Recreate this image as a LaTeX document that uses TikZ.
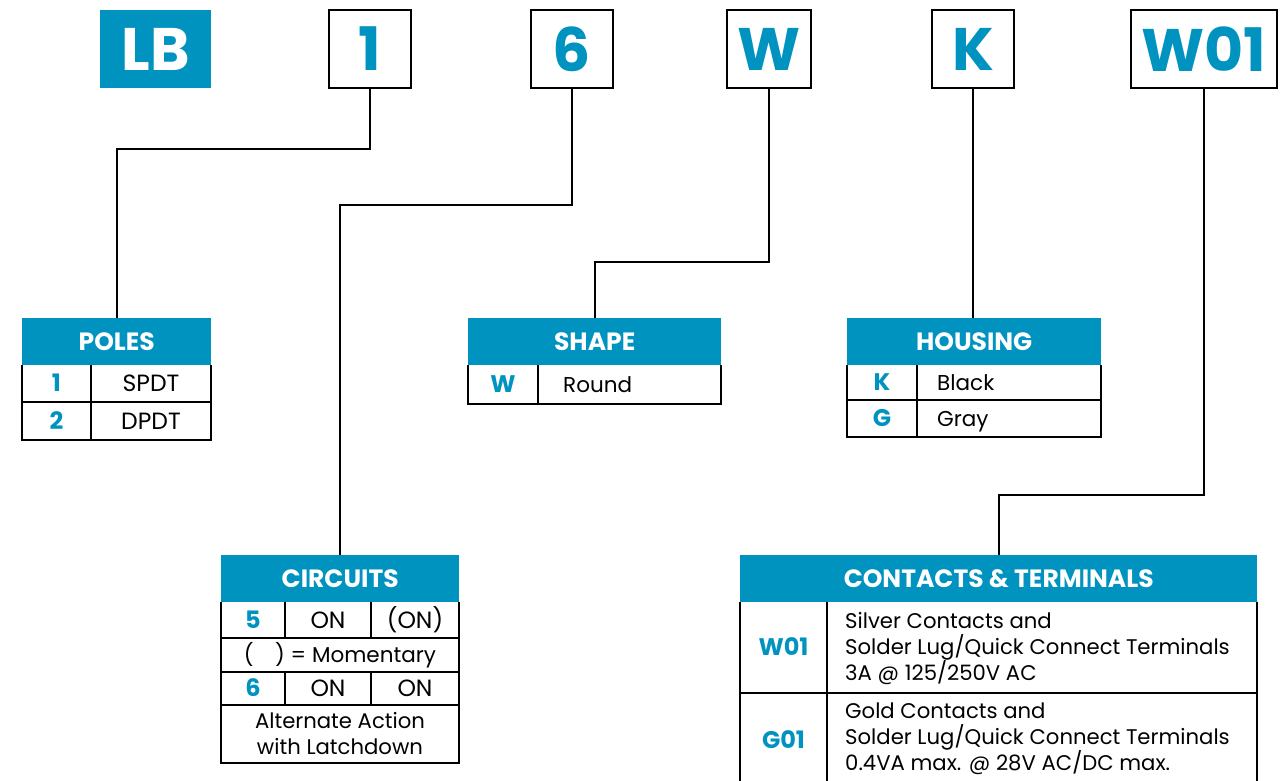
\documentclass[tikz,border=0pt]{standalone}
\usepackage{fontspec}
\setmainfont{Poppins}
\definecolor{cblue}{RGB}{0,147,192}
\begin{document}
\begin{tikzpicture}[x=1pt,y=-1pt,
  codebox/.style={draw=black, line width=2.5pt, minimum height=78pt, inner sep=0pt,
    font=\fontsize{60}{60}\selectfont\bfseries, text=cblue},
  hdr/.style={fill=cblue, text=white, anchor=north west, minimum height=47pt, inner sep=0pt,
    font=\fontsize{25}{25}\selectfont\bfseries},
  bt/.style={inner sep=0pt, text height=15pt, text depth=0pt, font=\fontsize{21.5}{26}\selectfont},
  capt/.style={inner sep=0pt, text height=16.5pt, text depth=0pt, font=\fontsize{23.5}{26}\selectfont},
  ct/.style={inner sep=0pt, text height=16.5pt, text depth=0pt, text=cblue, font=\fontsize{24}{26}\selectfont\bfseries},
  ml/.style={inner sep=0pt, align=center, font=\fontsize{21.2}{26}\selectfont},
  grid/.style={line width=1.5pt},
  frame/.style={line width=2.5pt},
  conn/.style={line width=2pt}]
\useasboundingbox (0,0) rectangle (1281,780);
% top code boxes
\node[codebox, fill=cblue, draw=none, text=white, minimum width=111pt] (bLB) at (155.5,49) {LB};
\node[codebox, minimum width=82pt] (b1) at (370,49) {1};
\node[codebox, minimum width=82pt] (b6) at (572,49) {6};
\node[codebox, minimum width=84pt] (bW) at (769,49) {W};
\node[codebox, minimum width=82pt] (bK) at (973,49) {K};
\node[codebox, minimum width=146pt] (bW01) at (1204,49) {W01};
% POLES
\node[hdr, minimum width=189pt] (polesH) at (22,318) {POLES};
\draw[grid] (91,365) -- (91,440) (22,402) -- (211,402);
\draw[frame] (22,365) -- (22,440) -- (211,440) -- (211,365);
\node[ct] (p1c) at (56.5,383.5) {1};
\node[capt] (p1t) at (151,383.5) {SPDT};
\node[ct] (p2c) at (56.5,421) {2};
\node[capt] (p2t) at (151,421) {DPDT};
% SHAPE
\node[hdr, minimum width=253pt] (shapeH) at (468,318) {SHAPE};
\draw[grid] (538,365) -- (538,404);
\draw[frame] (468,365) -- (468,404) -- (721,404) -- (721,365);
\node[ct] (s1c) at (503,384.5) {W};
\node[bt, anchor=west] (s1t) at (563,384.5) {Round};
% HOUSING
\node[hdr, minimum width=254pt] (housH) at (847,318) {HOUSING};
\draw[grid] (917,365) -- (917,437) (847,400) -- (1101,400);
\draw[frame] (847,365) -- (847,437) -- (1101,437) -- (1101,365);
\node[ct] (h1c) at (882,382.5) {K};
\node[bt, anchor=west] (h1t) at (937,382.5) {Black};
\node[ct] (h2c) at (882,418.5) {G};
\node[bt, anchor=west] (h2t) at (937,418.5) {Gray};
% CIRCUITS
\node[hdr, minimum width=238pt] (circH) at (221,555) {CIRCUITS};
\draw[grid] (221,638) -- (459,638) (221,672) -- (459,672) (221,705) -- (459,705)
  (285,602) -- (285,638) (371,602) -- (371,638) (285,672) -- (285,705) (371,672) -- (371,705);
\draw[frame] (221,602) -- (221,763) -- (459,763) -- (459,602);
\node[ct] (c5) at (253,620) {5};
\node[capt] (c5a) at (328,620) {ON};
\node[capt] (c5b) at (415,620) {(ON)};
\node[bt] (cm) at (340,655) {(\hspace{1em}) = Momentary};
\node[ct] (c6) at (253,688.5) {6};
\node[capt] (c6a) at (328,688.5) {ON};
\node[capt] (c6b) at (415,688.5) {ON};
\node[ml] (calt) at (340,734) {Alternate Action\\with Latchdown};
% CONTACTS & TERMINALS
\node[hdr, minimum width=517pt] (contH) at (740,555) {CONTACTS \& TERMINALS};
\draw[grid] (827,602) -- (827,790) (740,693) -- (1257,693);
\draw[frame] (740,602) -- (740,790) (1257,602) -- (1257,790);
\node[ct] (tw) at (783.5,647.5) {W01};
\node[ml, align=left, anchor=west] (twt) at (845,649) {Silver Contacts and\\Solder Lug/Quick Connect Terminals\\3A @ 125/250V AC};
\node[ct] (tg) at (783.5,740) {G01};
\node[ml, align=left, anchor=west] (tgt) at (845,739) {Gold Contacts and\\Solder Lug/Quick Connect Terminals\\0.4VA max. @ 28V AC/DC max.};
% connectors
\draw[conn] (b1.south) -- ++(0,60) -| (polesH.north);
\draw[conn] (b6.south) -- ++(0,116) -| (circH.north);
\draw[conn] (bW.south) -- ++(0,173) -| (shapeH.north);
\draw[conn] (bK.south) -- (bK.south |- housH.north);
\draw[conn] (bW01.south) -- ++(0,406) -| (contH.north);
\end{tikzpicture}
\end{document}
